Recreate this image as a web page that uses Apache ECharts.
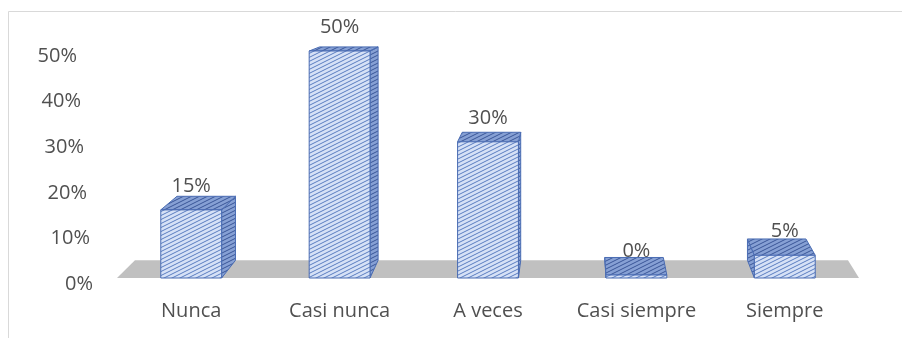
<!DOCTYPE html>
<html><head><meta charset="utf-8">
<script src="https://cdn.jsdelivr.net/npm/echarts@6/dist/echarts.min.js"></script>
<style>html,body{margin:0;padding:0;background:#fff}#c{width:902px;height:338px}</style>
</head><body><div id="c"></div>
<script>
const categories = ['Nunca', 'Casi nunca', 'A veces', 'Casi siempre', 'Siempre'];
const values = [0.15, 0.50, 0.30, 0.00, 0.05];
const yTicks = [0, 0.1, 0.2, 0.3, 0.4, 0.5];

const FONT = '"Open Sans", "Noto Sans", sans-serif';
const TXT = '#505050';

function makePattern(bg, fg) {
  const c = document.createElement('canvas');
  c.width = 8; c.height = 4;
  const g = c.getContext('2d');
  g.fillStyle = bg; g.fillRect(0, 0, 8, 4);
  g.strokeStyle = fg; g.lineWidth = 1;
  for (let n = -1; n <= 1; n++) {
    g.beginPath(); g.moveTo(0, 4 + 4 * n); g.lineTo(8, 4 * n); g.stroke();
  }
  return { image: c, repeat: 'repeat' };
}
const frontFill = makePattern('#d6e1f6', '#5a7cc0');
const darkFill = makePattern('#86a0d4', '#3a5697');
const EDGE = '#4a6cb3';

function persp(cs) {
  const vx = cs.x + cs.width * 0.62, vy = cs.y - 68, kx = 0.039, ky = 0.06;
  return (x, y) => [x + (vx - x) * kx, y + (vy - y) * ky];
}

function renderFloor(params, api) {
  const cs = params.coordSys;
  const B = persp(cs);
  const yb = api.coord([0, 0])[1];
  const xl = cs.x, xr = cs.x + cs.width;
  return {
    type: 'polygon',
    shape: { points: [[xl, yb], [xr, yb], B(xr, yb), B(xl, yb)] },
    style: { fill: '#c0c0c0', stroke: null }
  };
}

function renderBar(params, api) {
  const cs = params.coordSys;
  const B = persp(cs);
  const idx = api.value(0), v = api.value(1);
  const base = api.coord([idx, 0]), top = api.coord([idx, v]);
  const bw = api.size([1, 0])[0] * 0.41;
  const x0 = base[0] - bw / 2, x1 = base[0] + bw / 2, yb = base[1];
  const yt = Math.min(top[1], yb - 3);
  const bt0 = B(x0, yt), bt1 = B(x1, yt), bb0 = B(x0, yb), bb1 = B(x1, yb);
  const children = [];
  const faceStyle = (fill) => ({ fill: fill, stroke: EDGE, lineWidth: 1 });
  if (bt1[0] > x1 + 0.5) {
    children.push({ type: 'polygon', shape: { points: [[x1, yt], bt1, bb1, [x1, yb]] }, style: faceStyle(darkFill) });
  } else if (bt0[0] < x0 - 0.5) {
    children.push({ type: 'polygon', shape: { points: [[x0, yt], bt0, bb0, [x0, yb]] }, style: faceStyle(darkFill) });
  }
  children.push({ type: 'polygon', shape: { points: [[x0, yt], [x1, yt], bt1, bt0] }, style: faceStyle(darkFill) });
  children.push({ type: 'polygon', shape: { points: [[x0, yt], [x1, yt], [x1, yb], [x0, yb]] }, style: faceStyle(frontFill) });
  children.push({
    type: 'text',
    style: {
      text: Math.round(v * 100) + '%', x: base[0], y: yt - 24,
      align: 'center', verticalAlign: 'middle',
      font: '20px ' + FONT, fill: TXT
    }
  });
  return { type: 'group', children: children };
}

// right padding per tick label (Excel 3D perspective makes the labels drift)
const tickPad = [0, 3, 6, 9, 12, 16];
const rich = {};
yTicks.forEach((t, i) => {
  rich['t' + i] = { fontFamily: FONT, fontSize: 20, color: TXT, padding: [0, tickPad[i], 0, 0] };
});

const chart = echarts.init(document.getElementById('c'), null, { renderer: 'canvas' });
chart.setOption({
  animation: false,
  backgroundColor: '#fff',
  graphic: [{
    type: 'rect', silent: true,
    shape: { x: 8.5, y: 11.5, width: 1000, height: 1000 },
    style: { fill: null, stroke: '#d9d9d9', lineWidth: 1 }
  }],
  grid: [
    { left: 117, right: 43, top: 51, bottom: 60 },
    { left: 117, right: 43, top: 56, bottom: 54 }
  ],
  xAxis: [
    {
      type: 'category', data: categories, gridIndex: 0,
      axisLine: { show: false }, axisTick: { show: false },
      axisLabel: { interval: 0, hideOverlap: false, fontFamily: FONT, fontSize: 20, color: TXT, margin: 23 }
    },
    { type: 'category', data: categories, gridIndex: 1, show: false }
  ],
  yAxis: [
    { type: 'value', gridIndex: 0, min: 0, max: 0.5, show: false },
    {
      type: 'value', gridIndex: 1, min: 0, max: 0.5, interval: 0.1,
      axisLine: { show: false }, axisTick: { show: false }, splitLine: { show: false },
      axisLabel: {
        margin: 24, rich: rich,
        formatter: (v) => {
          const i = Math.round(v * 10);
          return '{t' + i + '|' + Math.round(v * 100) + '%}';
        }
      }
    }
  ],
  series: [
    {
      type: 'custom', name: 'floor', xAxisIndex: 0, yAxisIndex: 0, z: 1, silent: true,
      renderItem: renderFloor, encode: { x: 0, y: 1 }, data: [[0, 0]]
    },
    {
      type: 'custom', name: 'bars', xAxisIndex: 0, yAxisIndex: 0, z: 2,
      renderItem: renderBar, encode: { x: 0, y: 1 },
      data: values.map((v, i) => [i, v])
    }
  ]
});
</script>
</body></html>
